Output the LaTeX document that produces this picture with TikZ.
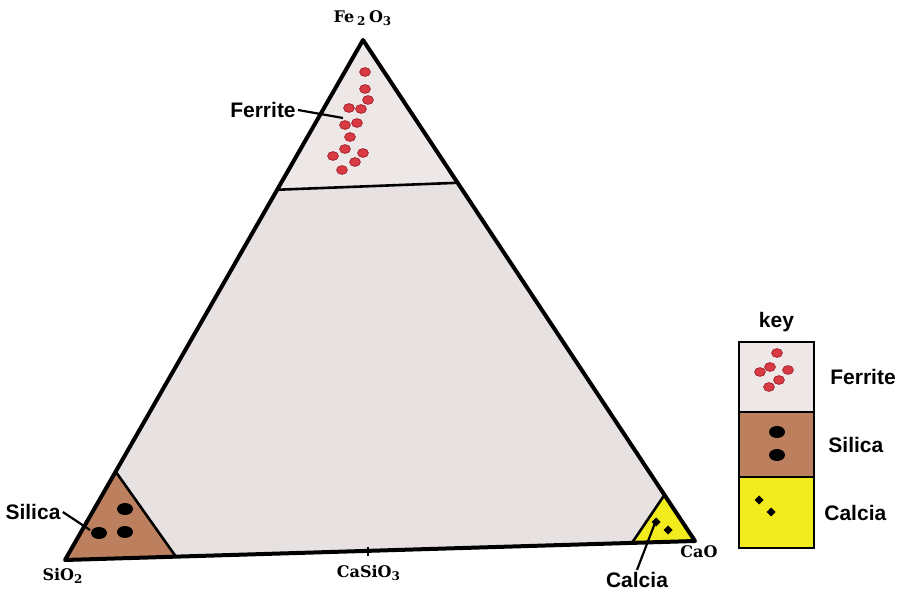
\documentclass[tikz,border=0pt]{standalone}
\usepackage{fontspec}
\setmainfont{Liberation Sans}
\newfontfamily\oxfont{DejaVu Serif}
\usetikzlibrary{positioning,calc}
\definecolor{bodyfill}{RGB}{232,225,225}
\definecolor{ferritefill}{RGB}{238,231,231}
\definecolor{silicafill}{RGB}{188,128,94}
\definecolor{calciafill}{RGB}{242,236,30}
\definecolor{ferritedot}{RGB}{218,58,68}
\definecolor{ferriteedge}{RGB}{165,35,45}

\begin{document}
\begin{tikzpicture}[x=0.5pt,y=-0.5pt,
  edge/.style={line width=2pt, line join=round},
  split/.style={line width=1.3pt},
  lead/.style={line width=1.1pt},
  lbl/.style={font=\fontsize{10.5}{12}\selectfont\bfseries, inner sep=1pt},
  ox/.style={font=\oxfont\fontsize{8}{9}\selectfont\bfseries, inner sep=1pt},
  keycell/.style={draw, line width=1.4pt, minimum width=37.5pt, inner sep=0pt, outer sep=0pt}
]
\useasboundingbox (0,0) rectangle (901,598);

% corners of the diagram
\coordinate (fe) at (363,40);
\coordinate (si) at (65,560);
\coordinate (ca) at (695,541);

% dividing points
\coordinate (fl) at ($(fe)!0.288!(si)$);
\coordinate (fr) at ($(fe)!0.285!(ca)$);
\coordinate (st) at ($(fe)!0.83!(si)$);
\coordinate (sb) at ($(si)!0.176!(ca)$);
\coordinate (ct) at ($(fe)!0.908!(ca)$);
\coordinate (cb) at ($(si)!0.90!(ca)$);

% regions
\fill[bodyfill] (fe) -- (si) -- (ca) -- cycle;
\fill[ferritefill] (fe) -- (fl) -- (fr) -- cycle;
\fill[silicafill] (si) -- (st) -- (sb) -- cycle;
\fill[calciafill] (ca) -- (ct) -- (cb) -- cycle;
\draw[split] (fl) -- (fr);
\draw[split] (st) -- (sb);
\draw[split] (ct) -- (cb);
\draw[edge] (fe) -- (si) -- (ca) -- cycle;
\draw[split] (368,547) -- (368,556);

% ferrite dots
\foreach \x/\y in {365/72,365/89,368/100,349/108,361/109,345/125,357/123,
                   350/137,345/149,333/156,363/153,355/162,342/170}
  \filldraw[fill=ferritedot, draw=ferriteedge, line width=0.4pt] (\x,\y) ellipse (2.7pt and 2.2pt);
\coordinate (ferritetip) at (343,118);

% silica dots
\foreach \x/\y in {125/509,99/533,125/532}
  \fill (\x,\y) ellipse (4pt and 3pt);
\coordinate (silicatip) at (90,530);

% calcia grains
\foreach \x/\y in {656/522,668/530}
  \fill (\x,\y) +(0,-4.5) -- +(4.5,0) -- +(0,4.5) -- +(-4.5,0) -- cycle;
\coordinate (calciatip) at (655,523);

% corner labels
\node[ox] (felbl) at (363,18) {Fe\,\textsubscript{2}\,O\textsubscript{3}};
\node[ox] (silbl) at (63,576) {SiO\textsubscript{2}};
\node[ox] (casilbl) at (369,573) {CaSiO\textsubscript{3}};
\node[ox] (calbl) at (699,552) {CaO};

% phase labels
\node[lbl] (ferritelbl) at (263,110) {Ferrite};
\node[lbl] (silicalbl) at (33,512) {Silica};
\node[lbl] (calcialbl) at (637,580) {Calcia};
\draw[lead] (ferritelbl.east) -- (ferritetip);
\draw[lead] (silicalbl.east) -- (silicatip);
\draw[lead] (calcialbl.north) -- (calciatip);

% key
\node[keycell, fill=ferritefill, minimum height=35pt] (kf) at (776.5,377) {};
\node[keycell, fill=silicafill, minimum height=32.5pt, below=0pt of kf] (ks) {};
\node[keycell, fill=calciafill, minimum height=35.5pt, below=0pt of ks] (kc) {};
\node[lbl, above=4pt of kf] (keytitle) {key};
\node[lbl, right=7pt of kf] (kfl) {Ferrite};
\node[lbl, right=6pt of ks] (ksl) {Silica};
\node[lbl, right=4pt of kc] (kcl) {Calcia};
\foreach \x/\y in {777/353,770/367,788/370,760/372,779/380,769/387}
  \filldraw[fill=ferritedot, draw=ferriteedge, line width=0.4pt] (\x,\y) ellipse (2.7pt and 2.2pt);
\foreach \x/\y in {777/432,777/455}
  \fill (\x,\y) ellipse (4pt and 3pt);
\foreach \x/\y in {759/500,771/512}
  \fill (\x,\y) +(0,-4.5) -- +(4.5,0) -- +(0,4.5) -- +(-4.5,0) -- cycle;
\end{tikzpicture}
\end{document}
